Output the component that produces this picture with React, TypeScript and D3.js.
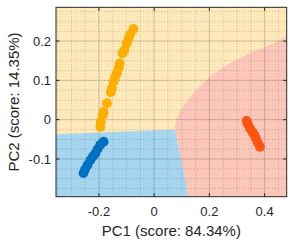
import React from "react";
import * as d3 from "d3";

const W = 295, H = 245;
const M = { left: 56, top: 7.3, right: 286.7, bottom: 196.7 };
const xDomain = [-0.3555, 0.48];
const yDomain = [-0.196, 0.286];
const xTicks = [-0.2, 0, 0.2, 0.4];
const yTicks = [-0.1, 0, 0.1, 0.2];
const xMinorStep = 0.05;
const yMinorStep = 0.025;

const orangeX = [-0.075, -0.087, -0.093, -0.099, -0.108, -0.115, -0.125, -0.129, -0.135, -0.141, -0.147, -0.153, -0.157, -0.171, -0.183, -0.186, -0.193, -0.195];
const orangeY = [0.231, 0.217, 0.207, 0.194, 0.177, 0.169, 0.143, 0.131, 0.118, 0.109, 0.097, 0.080, 0.070, 0.042, 0.020, 0.012, -0.005, -0.018];
const blueX = [-0.183, -0.195, -0.205, -0.213, -0.222, -0.231, -0.241, -0.250, -0.256];
const blueY = [-0.056, -0.064, -0.075, -0.086, -0.094, -0.103, -0.115, -0.126, -0.136];
const redX = [0.335, 0.339, 0.347, 0.356, 0.363, 0.368, 0.375, 0.383];
const redY = [-0.003, -0.011, -0.022, -0.032, -0.039, -0.047, -0.058, -0.069];

// region boundaries (data coordinates)
const pinkYellowBoundary: [number, number][] = [[0.076, -0.025], [0.077, -0.012], [0.088, 0.012], [0.118, 0.046], [0.154, 0.076], [0.2025, 0.109], [0.275, 0.1435], [0.347, 0.169], [0.4195, 0.19], [0.48, 0.213]];
const bluePinkBoundary: [number, number][] = [[0.076, -0.025], [0.090, -0.077], [0.1186, -0.170], [0.123, -0.196]];
const yellowBlueBoundary: [number, number][] = [[-0.3555, -0.037], [0.076, -0.025]];

const colors = {
  yellowBg: "#FFE8BA",
  blueBg: "#A6D6EF",
  pinkBg: "#FCC6B9",
  orange: "#FFAE00",
  blue: "#0071C2",
  red: "#FF5410",
};

export default function App() {
  const x = d3.scaleLinear().domain(xDomain).range([M.left, M.right]);
  const y = d3.scaleLinear().domain(yDomain).range([M.bottom, M.top]);
  const pt = (p: [number, number]): [number, number] => [x(p[0]), y(p[1])];
  const curveLine = d3.line().curve(d3.curveCatmullRom.alpha(0.5));

  const [x0, x1] = xDomain;
  const [y0, y1] = yDomain;

  const bluePts: [number, number][] = [[x0, y0], ...yellowBlueBoundary, ...bluePinkBoundary.slice(1), [x0, y0]];
  const bluePath = "M" + bluePts.map(pt).map(p => p.join(",")).join("L") + "Z";

  const pinkCurve = curveLine(pinkYellowBoundary.map(pt)) as string;
  const pinkRest: [number, number][] = [[x1, y0], ...bluePinkBoundary.slice().reverse()];
  const pinkPath = pinkCurve + "L" + pinkRest.map(pt).map(p => p.join(",")).join("L") + "Z";

  const xMinor = d3.range(Math.ceil(x0 / xMinorStep) * xMinorStep, x1, xMinorStep);
  const yMinor = d3.range(Math.ceil(y0 / yMinorStep) * yMinorStep, y1, yMinorStep);

  const font = "'Liberation Sans', Arial, sans-serif";
  const tickLen = 3.5;
  const axisColor = "#262626";

  const series = [
    { xs: orangeX, ys: orangeY, c: colors.orange },
    { xs: blueX, ys: blueY, c: colors.blue },
    { xs: redX, ys: redY, c: colors.red },
  ];

  return (
    <svg width={W} height={H} style={{ position: "absolute", left: 0, top: 0 }}>
      <defs>
        <clipPath id="plotclip">
          <rect x={M.left} y={M.top} width={M.right - M.left} height={M.bottom - M.top} />
        </clipPath>
      </defs>
      <rect x={0} y={0} width={W} height={H} fill="#fff" />
      <g clipPath="url(#plotclip)">
        <rect x={M.left} y={M.top} width={M.right - M.left} height={M.bottom - M.top} fill={colors.yellowBg} />
        <path d={bluePath} fill={colors.blueBg} />
        <path d={pinkPath} fill={colors.pinkBg} />
        {xMinor.map((v, i) => (
          <line key={"xm" + i} x1={x(v)} x2={x(v)} y1={M.top} y2={M.bottom} stroke={axisColor} strokeOpacity={0.3} strokeDasharray="1,2" strokeWidth={0.8} />
        ))}
        {yMinor.map((v, i) => (
          <line key={"ym" + i} x1={M.left} x2={M.right} y1={y(v)} y2={y(v)} stroke={axisColor} strokeOpacity={0.3} strokeDasharray="1,2" strokeWidth={0.8} />
        ))}
        {xTicks.map((v, i) => (
          <line key={"xg" + i} x1={x(v)} x2={x(v)} y1={M.top} y2={M.bottom} stroke={axisColor} strokeOpacity={0.15} strokeWidth={1} />
        ))}
        {yTicks.map((v, i) => (
          <line key={"yg" + i} x1={M.left} x2={M.right} y1={y(v)} y2={y(v)} stroke={axisColor} strokeOpacity={0.15} strokeWidth={1} />
        ))}
        {series.map((s, si) =>
          s.xs.map((v, i) => (
            <circle key={si + "-" + i} cx={x(v)} cy={y(s.ys[i])} r={4.9} fill={s.c} />
          ))
        )}
      </g>
      <rect x={M.left} y={M.top} width={M.right - M.left} height={M.bottom - M.top} fill="none" stroke={axisColor} strokeWidth={1} />
      {xTicks.map((v, i) => (
        <g key={"xt" + i}>
          <line x1={x(v)} x2={x(v)} y1={M.bottom} y2={M.bottom - tickLen} stroke={axisColor} />
          <line x1={x(v)} x2={x(v)} y1={M.top} y2={M.top + tickLen} stroke={axisColor} />
          <text x={x(v)} y={216} textAnchor="middle" fontFamily={font} fontSize={13} fill="#262626">{d3.format("")(v).replace("−", "-")}</text>
        </g>
      ))}
      {yTicks.map((v, i) => (
        <g key={"yt" + i}>
          <line x1={M.left} x2={M.left + tickLen} y1={y(v)} y2={y(v)} stroke={axisColor} />
          <line x1={M.right} x2={M.right - tickLen} y1={y(v)} y2={y(v)} stroke={axisColor} />
          <text x={51} y={y(v)} dy="0.35em" textAnchor="end" fontFamily={font} fontSize={13} fill="#262626">{d3.format("")(v).replace("−", "-")}</text>
        </g>
      ))}
      <text x={(M.left + M.right) / 2} y={236} textAnchor="middle" fontFamily={font} fontSize={15} fill="#262626">PC1 (score: 84.34%)</text>
      <text transform={`translate(19,${(M.top + M.bottom) / 2}) rotate(-90)`} textAnchor="middle" fontFamily={font} fontSize={15} fill="#262626">PC2 (score: 14.35%)</text>
    </svg>
  );
}
